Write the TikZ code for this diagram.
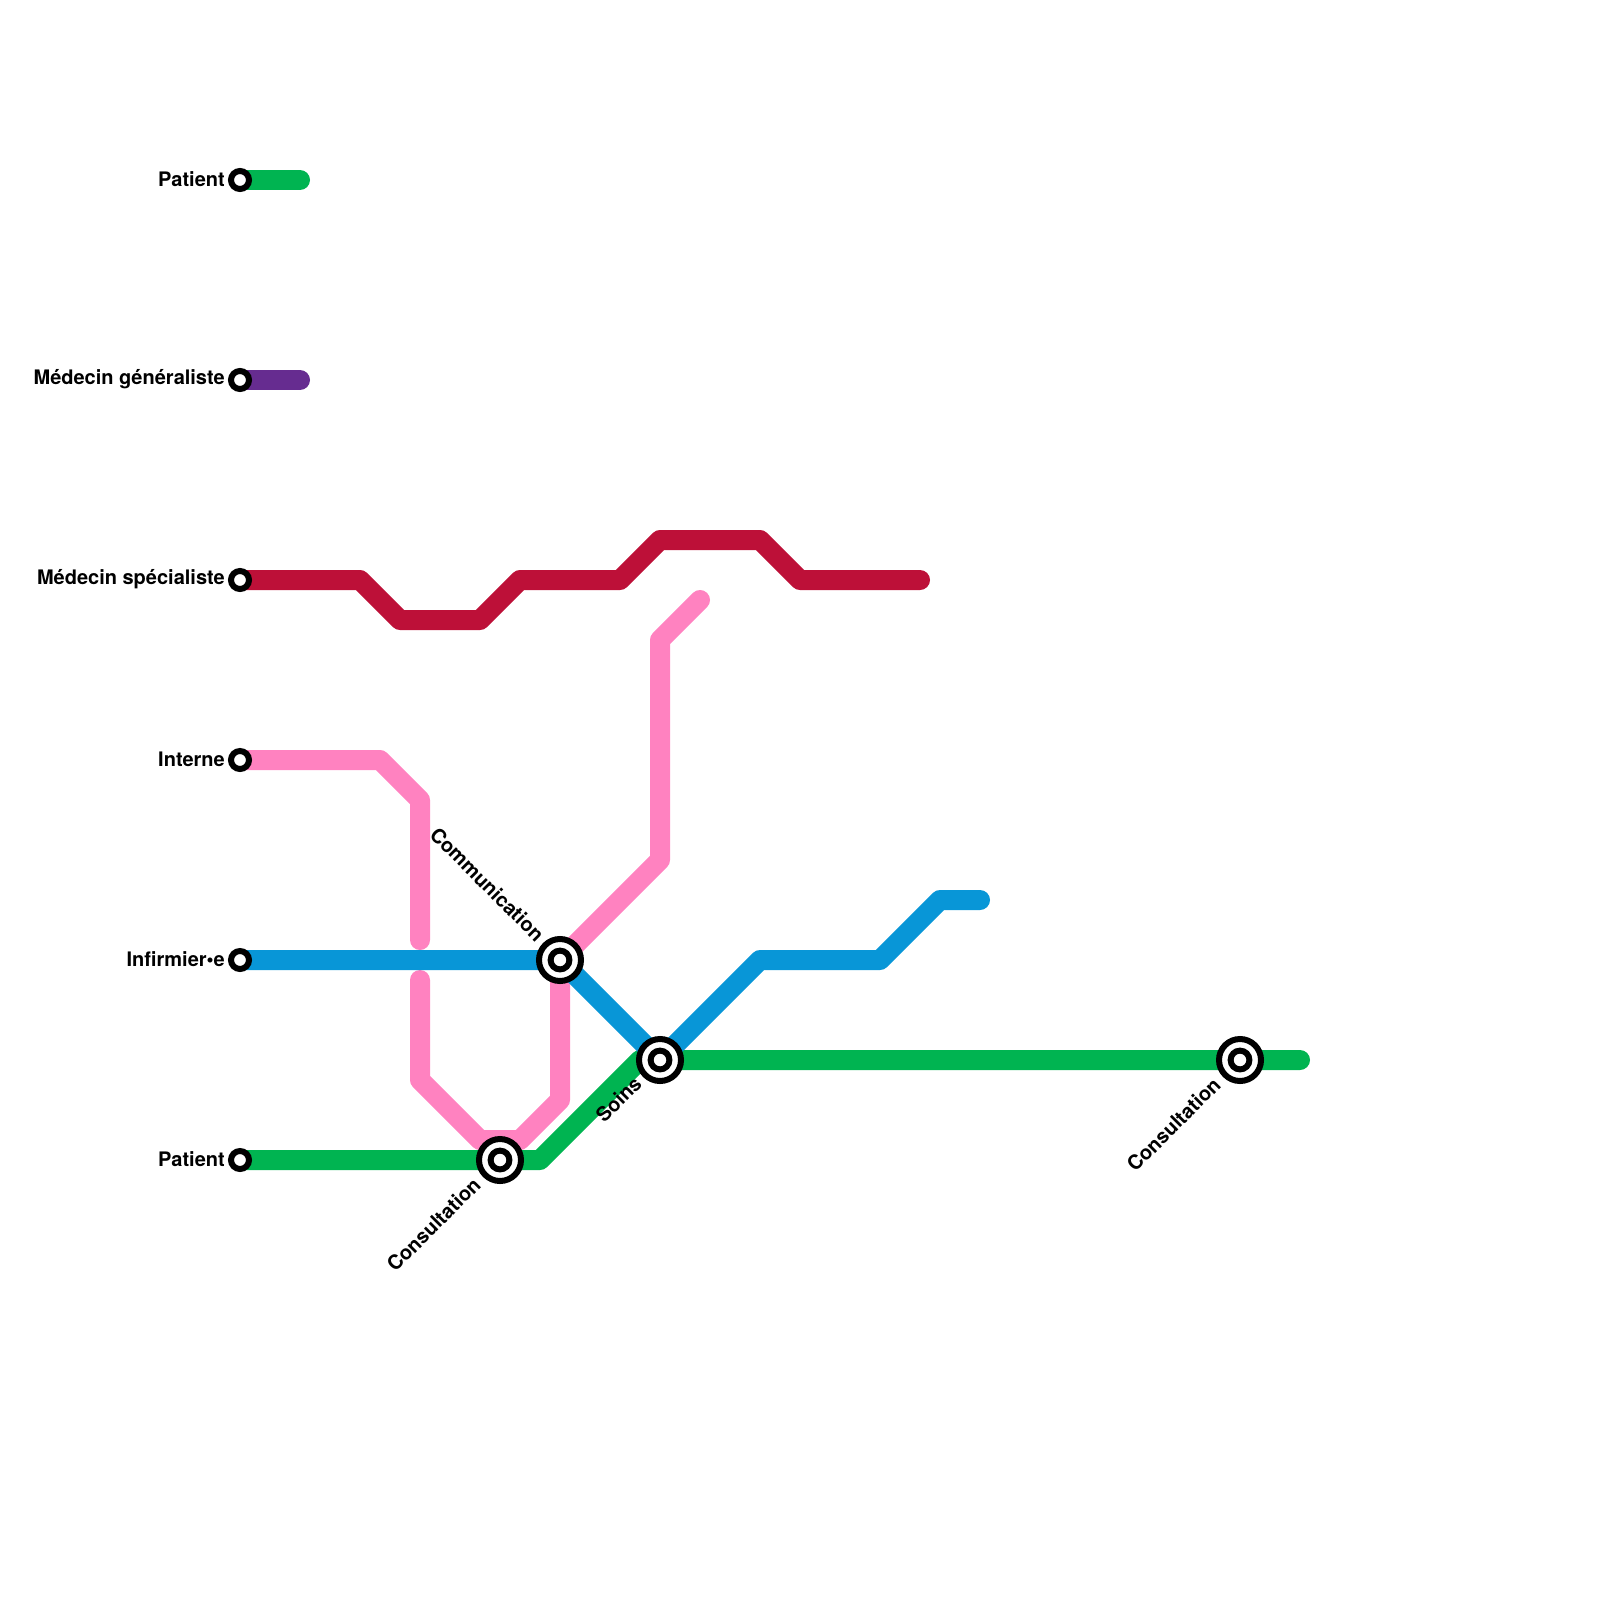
\documentclass[tikz,border=0pt]{standalone}
\usepackage{fontspec}
\setmainfont{TeX Gyre Heros}
\definecolor{lgreen}{HTML}{00B451}
\definecolor{lpurple}{HTML}{662C90}
\definecolor{lred}{HTML}{BD1038}
\definecolor{lpink}{HTML}{FF82C0}
\definecolor{lblue}{HTML}{0896D7}
\tikzset{
  x=0.5pt,y=-0.5pt,
  metro/.style={line width=10pt,line cap=round,line join=round},
  terminus/.style={circle,draw=black,fill=white,line width=3pt,minimum size=9pt,inner sep=0pt,outer sep=0pt},
  hub/.style={circle,draw=black,fill=white,line width=3pt,minimum size=21pt,inner sep=0pt,outer sep=0pt},
  hubcore/.style={circle,draw=black,fill=white,line width=3pt,minimum size=9.4pt,inner sep=0pt,outer sep=0pt},
  lbl/.style={font=\bfseries\fontsize{10}{12}\selectfont,inner sep=0pt,text=black},
}
\begin{document}
\begin{tikzpicture}
\useasboundingbox (0,0) rectangle (1600,1600);
% stations positions
\coordinate (sP1) at (240,180);
\coordinate (sMG) at (240,380);
\coordinate (sMS) at (240,580);
\coordinate (sIn) at (240,760);
\coordinate (sIf) at (240,960);
\coordinate (sP2) at (240,1160);
\coordinate (hCom) at (560,960);
\coordinate (hSoi) at (660,1060);
\coordinate (hCo1) at (500,1160);
\coordinate (hCo2) at (1240,1060);
% free ends and bends
\coordinate (g1) at (300,180);
\coordinate (v1) at (300,380);
\coordinate (r1) at (360,580);
\coordinate (r2) at (400,620);
\coordinate (r3) at (480,620);
\coordinate (r4) at (520,580);
\coordinate (r5) at (620,580);
\coordinate (r6) at (660,540);
\coordinate (r7) at (760,540);
\coordinate (r8) at (800,580);
\coordinate (r9) at (920,580);
\coordinate (p1) at (380,760);
\coordinate (p2) at (420,800);
\coordinate (p3) at (420,940);
\coordinate (p4) at (420,980);
\coordinate (p5) at (420,1080);
\coordinate (p6) at (480,1140);
\coordinate (p7) at (520,1140);
\coordinate (p8) at (560,1100);
\coordinate (p9) at (660,860);
\coordinate (p10) at (660,640);
\coordinate (p11) at (700,600);
\coordinate (b1) at (760,960);
\coordinate (b2) at (880,960);
\coordinate (b3) at (940,900);
\coordinate (b4) at (980,900);
\coordinate (g2) at (540,1160);
\coordinate (g4) at (640,1060);
\coordinate (g3) at (1300,1060);
% lines
\draw[metro,lgreen] (sP1) -- (g1);
\draw[metro,lpurple] (sMG) -- (v1);
\draw[metro,lred] (sMS) -- (r1) -- (r2) -- (r3) -- (r4) -- (r5) -- (r6) -- (r7) -- (r8) -- (r9);
\draw[metro,lgreen] (sP2) -- (g2) -- (g4) -- (g3);
\draw[metro,lpink] (sIn) -- (p1) -- (p2) -- (p3);
\draw[metro,lpink] (p4) -- (p5) -- (p6) -- (p7) -- (p8) -- (hCom) -- (p9) -- (p10) -- (p11);
\draw[metro,lblue] (sIf) -- (hCom) -- (hSoi) -- (b1) -- (b2) -- (b3) -- (b4);
% stations
\foreach \s/\t in {sP1/Patient,sMG/Médecin généraliste,sMS/Médecin spécialiste,sIn/Interne,sIf/Infirmier•e,sP2/Patient}{
  \node[terminus] (n\s) at (\s) {};
  \node[lbl,anchor=east] (t\s) at ([xshift=-7.4pt,yshift=0.5pt]\s) {\t};
}
\foreach \s in {hCom,hSoi,hCo1,hCo2}{
  \node[hub] (n\s) at (\s) {};
  \node[hubcore] (c\s) at (\s) {};
}
\node[lbl,anchor=east,rotate=-45] (tCom) at (541,938) {Communication};
\node[lbl,anchor=east,rotate=45] (tSoi) at (638,1080) {Soins};
\node[lbl,anchor=east,rotate=45] (tCo1) at (477,1181) {Consultation};
\node[lbl,anchor=east,rotate=45] (tCo2) at (1217,1081) {Consultation};
\end{tikzpicture}
\end{document}
